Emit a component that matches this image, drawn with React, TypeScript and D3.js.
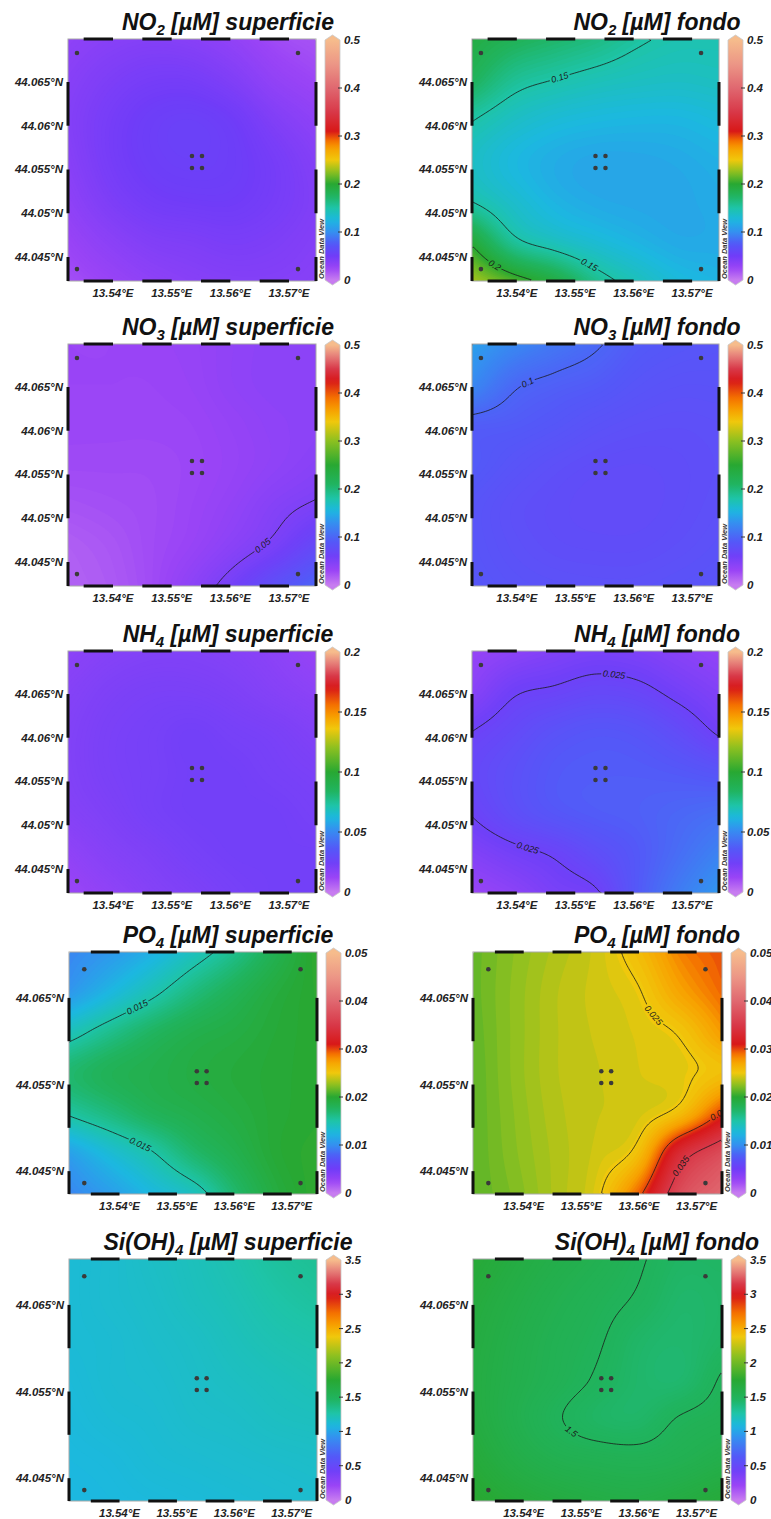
import React from 'react';
import * as d3 from 'd3';

// ---------------- data ----------------
const LON_TICKS = [13.54, 13.55, 13.56, 13.57];
const LAT_TICKS_FULL = [44.045, 44.05, 44.055, 44.06, 44.065];
const LAT_TICKS_SPARSE = [44.045, 44.055, 44.065];
const LON_DOMAIN_N = [13.53233, 13.5746];
const LAT_DOMAIN_N = [44.04226, 44.06991];
const LON_DOMAIN_S = [13.5312, 13.5744];
const LAT_DOMAIN_S = [44.04236, 44.0703];
const LON_DASHES = [[13.535, 13.54], [13.545, 13.55], [13.555, 13.56], [13.565, 13.57]];
const LAT_DASHES = [[44.04, 44.045], [44.05, 44.055], [44.06, 44.065]];

const STATION_LON = [13.53386, 13.57153, 13.53386, 13.57153, 13.55346, 13.55517, 13.55346, 13.55517];
const STATION_LAT = [44.06831, 44.06831, 44.04362, 44.04362, 44.05654, 44.05654, 44.05517, 44.05517];

const SPECIES = ['NO', 'NO', 'NH', 'PO', 'Si(OH)'];
const SUBSCRIPTS = ['2', '3', '4', '4', '4'];
const LAYERS = ['superficie', 'fondo'];
const SCALE_TICKS = [
  [0, 0.1, 0.2, 0.3, 0.4, 0.5],
  [0, 0.1, 0.2, 0.3, 0.4, 0.5],
  [0, 0.05, 0.1, 0.15, 0.2],
  [0, 0.01, 0.02, 0.03, 0.04, 0.05],
  [0, 0.5, 1, 1.5, 2, 2.5, 3, 3.5],
];
const PALETTE_OF_ROW = ['A', 'B', 'B', 'A', 'B'];

// gridded fields (rows top->bottom = north->south, cols west->east)
const NO2_SUP = [
  [0.032, 0.036, 0.038, 0.036, 0.030, 0.022, 0.018],
  [0.036, 0.042, 0.046, 0.046, 0.040, 0.030, 0.024],
  [0.038, 0.046, 0.052, 0.054, 0.050, 0.040, 0.032],
  [0.036, 0.046, 0.052, 0.054, 0.052, 0.046, 0.038],
  [0.032, 0.042, 0.048, 0.050, 0.050, 0.046, 0.040],
  [0.026, 0.034, 0.040, 0.042, 0.044, 0.042, 0.038],
  [0.020, 0.026, 0.032, 0.036, 0.038, 0.038, 0.036],
];
const NO2_FONDO = [
  [0.190, 0.180, 0.172, 0.164, 0.153, 0.147, 0.146],
  [0.178, 0.158, 0.150, 0.144, 0.140, 0.138, 0.140],
  [0.151, 0.138, 0.130, 0.126, 0.124, 0.124, 0.128],
  [0.138, 0.126, 0.118, 0.114, 0.114, 0.116, 0.120],
  [0.149, 0.134, 0.122, 0.116, 0.114, 0.114, 0.117],
  [0.195, 0.155, 0.140, 0.130, 0.122, 0.116, 0.116],
  [0.232, 0.210, 0.190, 0.160, 0.142, 0.128, 0.122],
];
const NO3_SUP = [
  [0.030, 0.030, 0.031, 0.033, 0.037, 0.040, 0.040],
  [0.030, 0.030, 0.030, 0.032, 0.037, 0.040, 0.040],
  [0.029, 0.029, 0.029, 0.030, 0.034, 0.038, 0.040],
  [0.027, 0.027, 0.027, 0.029, 0.033, 0.038, 0.043],
  [0.022, 0.024, 0.026, 0.030, 0.036, 0.045, 0.052],
  [0.016, 0.020, 0.026, 0.032, 0.042, 0.054, 0.072],
  [0.014, 0.018, 0.026, 0.040, 0.058, 0.080, 0.100],
];
const NO3_FONDO = [
  [0.140, 0.125, 0.112, 0.102, 0.092, 0.088, 0.086],
  [0.125, 0.103, 0.096, 0.092, 0.086, 0.083, 0.083],
  [0.094, 0.092, 0.088, 0.083, 0.080, 0.079, 0.080],
  [0.092, 0.085, 0.080, 0.077, 0.076, 0.077, 0.079],
  [0.086, 0.080, 0.077, 0.075, 0.075, 0.077, 0.080],
  [0.086, 0.081, 0.078, 0.077, 0.077, 0.079, 0.082],
  [0.088, 0.084, 0.082, 0.081, 0.081, 0.083, 0.085],
];
const NH4_SUP = [
  [0.016, 0.018, 0.019, 0.019, 0.018, 0.016, 0.013],
  [0.018, 0.020, 0.021, 0.021, 0.020, 0.018, 0.016],
  [0.019, 0.021, 0.022, 0.023, 0.022, 0.021, 0.019],
  [0.019, 0.021, 0.022, 0.023, 0.023, 0.022, 0.021],
  [0.018, 0.020, 0.022, 0.023, 0.023, 0.023, 0.022],
  [0.015, 0.018, 0.020, 0.022, 0.023, 0.023, 0.023],
  [0.012, 0.015, 0.018, 0.020, 0.022, 0.023, 0.023],
];
const NH4_FONDO = [
  [0.013, 0.016, 0.019, 0.021, 0.020, 0.017, 0.014],
  [0.017, 0.024, 0.026, 0.028, 0.027, 0.023, 0.019],
  [0.025, 0.029, 0.033, 0.035, 0.034, 0.030, 0.024],
  [0.028, 0.032, 0.036, 0.037, 0.037, 0.036, 0.034],
  [0.0255, 0.031, 0.035, 0.037, 0.038, 0.040, 0.042],
  [0.019, 0.023, 0.026, 0.031, 0.036, 0.042, 0.048],
  [0.012, 0.016, 0.021, 0.024, 0.036, 0.046, 0.054],
];
const PO4_SUP = [
  [0.0095, 0.0105, 0.0120, 0.0140, 0.0160, 0.0183, 0.0203],
  [0.0105, 0.0125, 0.0145, 0.0165, 0.0180, 0.0193, 0.0201],
  [0.0142, 0.0160, 0.0175, 0.0185, 0.0190, 0.0196, 0.0200],
  [0.0170, 0.0180, 0.0185, 0.0190, 0.0194, 0.0197, 0.0200],
  [0.0152, 0.0165, 0.0178, 0.0185, 0.0191, 0.0197, 0.0200],
  [0.0110, 0.0130, 0.0148, 0.0170, 0.0184, 0.0197, 0.0202],
  [0.0095, 0.0108, 0.0125, 0.0140, 0.0170, 0.0192, 0.0203],
];
const PO4_FONDO = [
  [0.0215, 0.0225, 0.0234, 0.0242, 0.0258, 0.0285, 0.0298],
  [0.0215, 0.0226, 0.0236, 0.0242, 0.0249, 0.0272, 0.0292],
  [0.0214, 0.0226, 0.0236, 0.0241, 0.0245, 0.0252, 0.0276],
  [0.0213, 0.0226, 0.0236, 0.0240, 0.0244, 0.0247, 0.0256],
  [0.0213, 0.0225, 0.0235, 0.0240, 0.0243, 0.0258, 0.0303],
  [0.0213, 0.0224, 0.0234, 0.0242, 0.0258, 0.0335, 0.0372],
  [0.0213, 0.0222, 0.0234, 0.0247, 0.0295, 0.0372, 0.0400],
];
const SI_SUP = [
  [1.12, 1.14, 1.17, 1.20, 1.24, 1.29, 1.32],
  [1.12, 1.14, 1.16, 1.19, 1.22, 1.26, 1.29],
  [1.12, 1.13, 1.15, 1.17, 1.20, 1.23, 1.25],
  [1.11, 1.13, 1.14, 1.16, 1.18, 1.20, 1.22],
  [1.10, 1.12, 1.13, 1.15, 1.16, 1.18, 1.19],
  [1.09, 1.10, 1.12, 1.13, 1.14, 1.15, 1.16],
  [1.08, 1.09, 1.10, 1.11, 1.12, 1.13, 1.14],
];
const SI_FONDO = [
  [1.72, 1.65, 1.60, 1.56, 1.51, 1.46, 1.46],
  [1.68, 1.62, 1.57, 1.53, 1.49, 1.44, 1.45],
  [1.66, 1.60, 1.55, 1.51, 1.45, 1.43, 1.46],
  [1.65, 1.59, 1.54, 1.49, 1.44, 1.43, 1.51],
  [1.66, 1.58, 1.51, 1.46, 1.45, 1.51, 1.54],
  [1.70, 1.62, 1.57, 1.55, 1.54, 1.56, 1.60],
  [1.76, 1.70, 1.66, 1.63, 1.62, 1.65, 1.70],
];
const GRIDS = [
  [NO2_SUP, NO2_FONDO],
  [NO3_SUP, NO3_FONDO],
  [NH4_SUP, NH4_FONDO],
  [PO4_SUP, PO4_FONDO],
  [SI_SUP, SI_FONDO],
];

// contour levels drawn, with label anchors (plot fractions)
type ContourSpec = { level: number; labels: number[][] };
const NO2_FONDO_CONTOURS: ContourSpec[] = [
  { level: 0.15, labels: [[0.356, 0.153], [0.486, 0.905]] },
  { level: 0.2, labels: [[0.113, 0.9]] },
];
const NO3_SUP_CONTOURS: ContourSpec[] = [{ level: 0.05, labels: [[0.766, 0.81]] }];
const NO3_FONDO_CONTOURS: ContourSpec[] = [{ level: 0.1, labels: [[0.223, 0.16]] }];
const NH4_FONDO_CONTOURS: ContourSpec[] = [{ level: 0.025, labels: [[0.571, 0.112], [0.227, 0.8]] }];
const PO4_SUP_CONTOURS: ContourSpec[] = [{ level: 0.015, labels: [[0.254, 0.198], [0.27, 0.83]] }];
const PO4_FONDO_CONTOURS: ContourSpec[] = [
  { level: 0.025, labels: [[0.76, 0.228]] },
  { level: 0.03, labels: [[0.975, 0.66]] },
  { level: 0.035, labels: [[0.815, 0.867]] },
];
const SI_FONDO_CONTOURS: ContourSpec[] = [{ level: 1.5, labels: [[0.39, 0.71]] }];
const CONTOURS: ContourSpec[][][] = [
  [[], NO2_FONDO_CONTOURS],
  [NO3_SUP_CONTOURS, NO3_FONDO_CONTOURS],
  [[], NH4_FONDO_CONTOURS],
  [PO4_SUP_CONTOURS, PO4_FONDO_CONTOURS],
  [[], SI_FONDO_CONTOURS],
];

// ---------------- styles / layout ----------------
const PAL_A_T = [0, 0.05, 0.1, 0.15, 0.2, 0.25, 0.3, 0.35, 0.4, 0.45, 0.5, 0.55, 0.58, 0.62, 0.7, 0.8, 0.9, 1];
const PAL_A_C = ['#c77cf0', '#9a44f6', '#703cf8', '#5258f8', '#3490f0', '#1cb8e0', '#1ec4a8', '#20b460', '#28a832', '#8cc020', '#f0c80c', '#f8a000', '#f47000', '#d81818', '#d83848', '#e06870', '#ec9686', '#f6bc8c'];
const PAL_B_T = [0, 0.06, 0.12, 0.18, 0.26, 0.31, 0.36, 0.42, 0.5, 0.6, 0.68, 0.73, 0.78, 0.85, 0.9, 0.95, 1];
const PAL_B_C = ['#c77cf0', '#9a44f6', '#7040f8', '#5458f8', '#3490f0', '#1cb8e0', '#1ec4a8', '#20b460', '#28a832', '#8cc020', '#f0c80c', '#f8a000', '#f47000', '#d81818', '#d83848', '#e47a78', '#f6bc8c'];

const ROW_TOPS = [39, 344, 651, 952, 1259];
const PLOT_H = 242;
const FONT = "'Liberation Sans', Arial, Helvetica, sans-serif";
const N = 100;

function colX(row: number, col: number): [number, number] {
  if (col === 0) return row >= 3 ? [69, 317] : [68, 316];
  return row >= 3 ? [473, 722] : [472, 719];
}

function cr(p0: number, p1: number, p2: number, p3: number, t: number) {
  return 0.5 * (2 * p1 + (-p0 + p2) * t + (2 * p0 - 5 * p1 + 4 * p2 - p3) * t * t + (-p0 + 3 * p1 - 3 * p2 + p3) * t * t * t);
}
function gridAt(g: number[][], r: number, c: number): number {
  const m = g.length - 1, n = g[0].length - 1;
  const col = (row: number[], cc: number) => (cc < 0 ? 2 * row[0] - row[1] : cc > n ? 2 * row[n] - row[n - 1] : row[cc]);
  if (r < 0) return 2 * col(g[0], c) - col(g[1], c);
  if (r > m) return 2 * col(g[m], c) - col(g[m - 1], c);
  return col(g[r], c);
}
function sampleGrid(g: number[][], fx: number, fy: number) {
  const n = g[0].length - 1, m = g.length - 1;
  const gx = fx * n, gy = fy * m;
  const ix = Math.min(n - 1, Math.floor(gx)), iy = Math.min(m - 1, Math.floor(gy));
  const tx = gx - ix, ty = gy - iy;
  const r = [-1, 0, 1, 2].map((d) =>
    cr(gridAt(g, iy + d, ix - 1), gridAt(g, iy + d, ix), gridAt(g, iy + d, ix + 1), gridAt(g, iy + d, ix + 2), tx)
  );
  return cr(r[0], r[1], r[2], r[3], ty);
}

function contourLines(values: number[], level: number) {
  const mp = d3.contours().size([N, N]).thresholds([level])(values)[0];
  const out: number[][][] = [];
  for (const poly of mp.coordinates as any) {
    for (const ring of poly) {
      let cur: number[][] = [];
      for (let i = 0; i < ring.length - 1; i++) {
        const a = ring[i], b = ring[i + 1];
        const edge =
          (a[0] <= 0 && b[0] <= 0) || (a[0] >= N && b[0] >= N) || (a[1] <= 0 && b[1] <= 0) || (a[1] >= N && b[1] >= N);
        if (edge) {
          if (cur.length > 1) out.push(cur);
          cur = [];
        } else {
          if (!cur.length) cur.push(a);
          cur.push(b);
        }
      }
      if (cur.length > 1) out.push(cur);
    }
  }
  return out;
}

function Panel({ row, col }: { row: number; col: number }) {
  const [x0, x1] = colX(row, col);
  const y0 = ROW_TOPS[row];
  const y1 = y0 + PLOT_H;
  const W = x1 - x0, H = y1 - y0;
  const grid = GRIDS[row][col];
  const ticks = SCALE_TICKS[row];
  const vmaxScale = ticks[ticks.length - 1];
  const palT = PALETTE_OF_ROW[row] === 'A' ? PAL_A_T : PAL_B_T;
  const palC = PALETTE_OF_ROW[row] === 'A' ? PAL_A_C : PAL_B_C;
  const color = d3
    .scaleLinear<string>()
    .domain(palT.map((t) => t * vmaxScale))
    .range(palC)
    .interpolate(d3.interpolateRgb)
    .clamp(true);
  const south = row >= 3;
  const xs = d3.scaleLinear().domain(south ? LON_DOMAIN_S : LON_DOMAIN_N).range([x0, x1]);
  const ys = d3.scaleLinear().domain(south ? LAT_DOMAIN_S : LAT_DOMAIN_N).range([y1, y0]);
  const latTicks = south ? LAT_TICKS_SPARSE : LAT_TICKS_FULL;

  const values: number[] = new Array(N * N);
  for (let j = 0; j < N; j++) for (let i = 0; i < N; i++) values[j * N + i] = sampleGrid(grid, (i + 0.5) / N, (j + 0.5) / N);
  const [vmin, vmax] = d3.extent(values) as [number, number];
  const steps = 48;
  const step = (vmax - vmin) / steps || 1e-6;
  const thr = d3.range(steps).map((k) => vmin + k * step);
  thr[0] = vmin - 1e-9;
  const bands = d3.contours().size([N, N]).thresholds(thr)(values);
  const proj = d3.geoTransform({
    point: function (this: any, x: number, y: number) {
      this.stream.point(x0 + (x * W) / N, y0 + (y * H) / N);
    },
  });
  const geo = d3.geoPath(proj);
  const toScreen = (p: number[]) => [x0 + (p[0] * W) / N, y0 + (p[1] * H) / N];

  const specs = CONTOURS[row][col];
  const lineGen = d3.line();
  const linePaths: string[] = [];
  const labels: { x: number; y: number; a: number; text: string; w: number }[] = [];
  specs.forEach((spec) => {
    const polys = contourLines(values, spec.level).map((pl) => pl.map(toScreen));
    polys.forEach((pl) => linePaths.push(lineGen(pl as any) || ''));
    spec.labels.forEach(([fx, fy]) => {
      const tx = x0 + fx * W, ty = y0 + fy * H;
      let best = Infinity, bp = -1, bi = -1;
      polys.forEach((pl, pi) =>
        pl.forEach((p, i) => {
          const d = (p[0] - tx) ** 2 + (p[1] - ty) ** 2;
          if (d < best) { best = d; bp = pi; bi = i; }
        })
      );
      if (bp < 0) return;
      const pl = polys[bp];
      const a = pl[Math.max(0, bi - 3)], b = pl[Math.min(pl.length - 1, bi + 3)];
      let ang = (Math.atan2(b[1] - a[1], b[0] - a[0]) * 180) / Math.PI;
      if (ang > 90) ang -= 180;
      if (ang < -90) ang += 180;
      const text = String(spec.level);
      const w = text.replace('.', '').length * 5 + 2.5 + 3;
      labels.push({ x: pl[bi][0], y: pl[bi][1], a: ang, text, w });
    });
  });

  const id = `p${row}${col}`;
  const cbX = x1 + 9, cbW = 15;
  const cbTop = y0 + 1, cbBot = y1 - 1;
  const cs = d3.scaleLinear().domain([0, vmaxScale]).range([cbBot, cbTop]);
  const cbPath = `M${cbX},${cbTop} L${cbX + cbW / 2},${cbTop - 5} L${cbX + cbW},${cbTop} L${cbX + cbW},${cbBot} L${cbX + cbW / 2},${cbBot + 5} L${cbX},${cbBot} Z`;
  const titleCx = col === 0 ? 228 : 657;

  return (
    <g>
      <defs>
        <clipPath id={`clip-${id}`}>
          <rect x={x0} y={y0} width={W} height={H} />
        </clipPath>
        <mask id={`mask-${id}`} maskUnits="userSpaceOnUse" x={x0 - 5} y={y0 - 5} width={W + 10} height={H + 10}>
          <rect x={x0 - 5} y={y0 - 5} width={W + 10} height={H + 10} fill="#fff" />
          {labels.map((l, i) => (
            <rect key={i} x={-l.w / 2} y={-4.5} width={l.w} height={9} fill="#000" transform={`translate(${l.x},${l.y}) rotate(${l.a})`} />
          ))}
        </mask>
        <linearGradient id={`grad-${id}`} gradientUnits="userSpaceOnUse" x1={0} x2={0} y1={cbBot} y2={cbTop}>
          {d3.range(0, 1.0001, 0.02).map((t, i) => (
            <stop key={i} offset={t} stopColor={color(t * vmaxScale)} />
          ))}
        </linearGradient>
      </defs>

      {/* title */}
      <text x={titleCx} y={y0 - 9} textAnchor="middle" fontSize={23} fontWeight="bold" fontStyle="italic" fill="#111">
        {SPECIES[row]}
        <tspan fontSize={15} dy={5}>{SUBSCRIPTS[row]}</tspan>
        <tspan dy={-5}>{` [µM] ${LAYERS[col]}`}</tspan>
      </text>

      {/* field */}
      <g clipPath={`url(#clip-${id})`}>
        {bands.map((b, k) => (
          <path key={k} d={geo(b as any) || ''} fill={color(vmin + (k + 0.5) * step)} />
        ))}
        <g mask={`url(#mask-${id})`}>
          {linePaths.map((d, i) => (
            <path key={i} d={d} fill="none" stroke="#1a1a1a" strokeWidth={0.8} />
          ))}
        </g>
        {labels.map((l, i) => (
          <text key={i} transform={`translate(${l.x},${l.y}) rotate(${l.a})`} textAnchor="middle" dominantBaseline="central" fontSize={9} fontStyle="italic" fill="#1a1a1a">
            {l.text}
          </text>
        ))}
      </g>

      {/* frame */}
      <rect x={x0} y={y0} width={W} height={H} fill="none" stroke="#a8a8a8" strokeWidth={1} />
      {LON_DASHES.map(([a, b], i) => {
        const xa = Math.max(x0, xs(a)), xb = Math.min(x1, xs(b));
        return (
          <g key={`lx${i}`}>
            <line x1={xa} x2={xb} y1={y0} y2={y0} stroke="#111" strokeWidth={3} />
            <line x1={xa} x2={xb} y1={y1} y2={y1} stroke="#111" strokeWidth={3} />
          </g>
        );
      })}
      {LAT_DASHES.map(([a, b], i) => {
        const ya = Math.min(y1, ys(a)), yb = Math.max(y0, ys(b));
        return (
          <g key={`ly${i}`}>
            <line x1={x0} x2={x0} y1={ya} y2={yb} stroke="#111" strokeWidth={3} />
            <line x1={x1} x2={x1} y1={ya} y2={yb} stroke="#111" strokeWidth={3} />
          </g>
        );
      })}

      {/* stations */}
      {STATION_LON.map((lon, i) => (
        <circle key={i} cx={xs(lon)} cy={ys(STATION_LAT[i])} r={2.3} fill="#3a3a3a" />
      ))}

      {/* axes labels */}
      {latTicks.map((t) => (
        <text key={t} x={x0 - 5} y={ys(t)} textAnchor="end" dominantBaseline="central" fontSize={11.5} fontWeight="bold" fontStyle="italic" fill="#222">
          {`${t}°N`}
        </text>
      ))}
      {LON_TICKS.map((t) => (
        <text key={t} x={xs(t)} y={y1 + 16} textAnchor="middle" fontSize={11.5} fontWeight="bold" fontStyle="italic" fill="#222">
          {`${t}°E`}
        </text>
      ))}

      {/* Ocean Data View */}
      <text transform={`translate(${x1 + 7.5},${y1 - 2}) rotate(-90)`} fontSize={7} fontStyle="italic" fontWeight="bold" fill="#333" textLength={60} lengthAdjust="spacingAndGlyphs">
        Ocean Data View
      </text>

      {/* colour bar */}
      <path d={cbPath} fill={`url(#grad-${id})`} stroke="#c8c8c8" strokeWidth={0.8} strokeLinejoin="round" />
      {ticks.map((t) => (
        <g key={t}>
          {t > 0 && t < vmaxScale && <line x1={cbX + cbW - 2} x2={cbX + cbW + 2} y1={cs(t)} y2={cs(t)} stroke="#333" strokeWidth={1} />}
          <text x={cbX + cbW + 4} y={cs(t)} dominantBaseline="central" fontSize={11.5} fontWeight="bold" fontStyle="italic" fill="#222">
            {String(t)}
          </text>
        </g>
      ))}
    </g>
  );
}

export default function App() {
  const cells: JSX.Element[] = [];
  for (let r = 0; r < 5; r++) for (let c = 0; c < 2; c++) cells.push(<Panel key={`${r}-${c}`} row={r} col={c} />);
  return (
    <svg width={771} height={1519} style={{ position: 'absolute', left: 0, top: 0 }} fontFamily={FONT}>
      <rect x={0} y={0} width={771} height={1519} fill="#fff" />
      {cells}
    </svg>
  );
}
